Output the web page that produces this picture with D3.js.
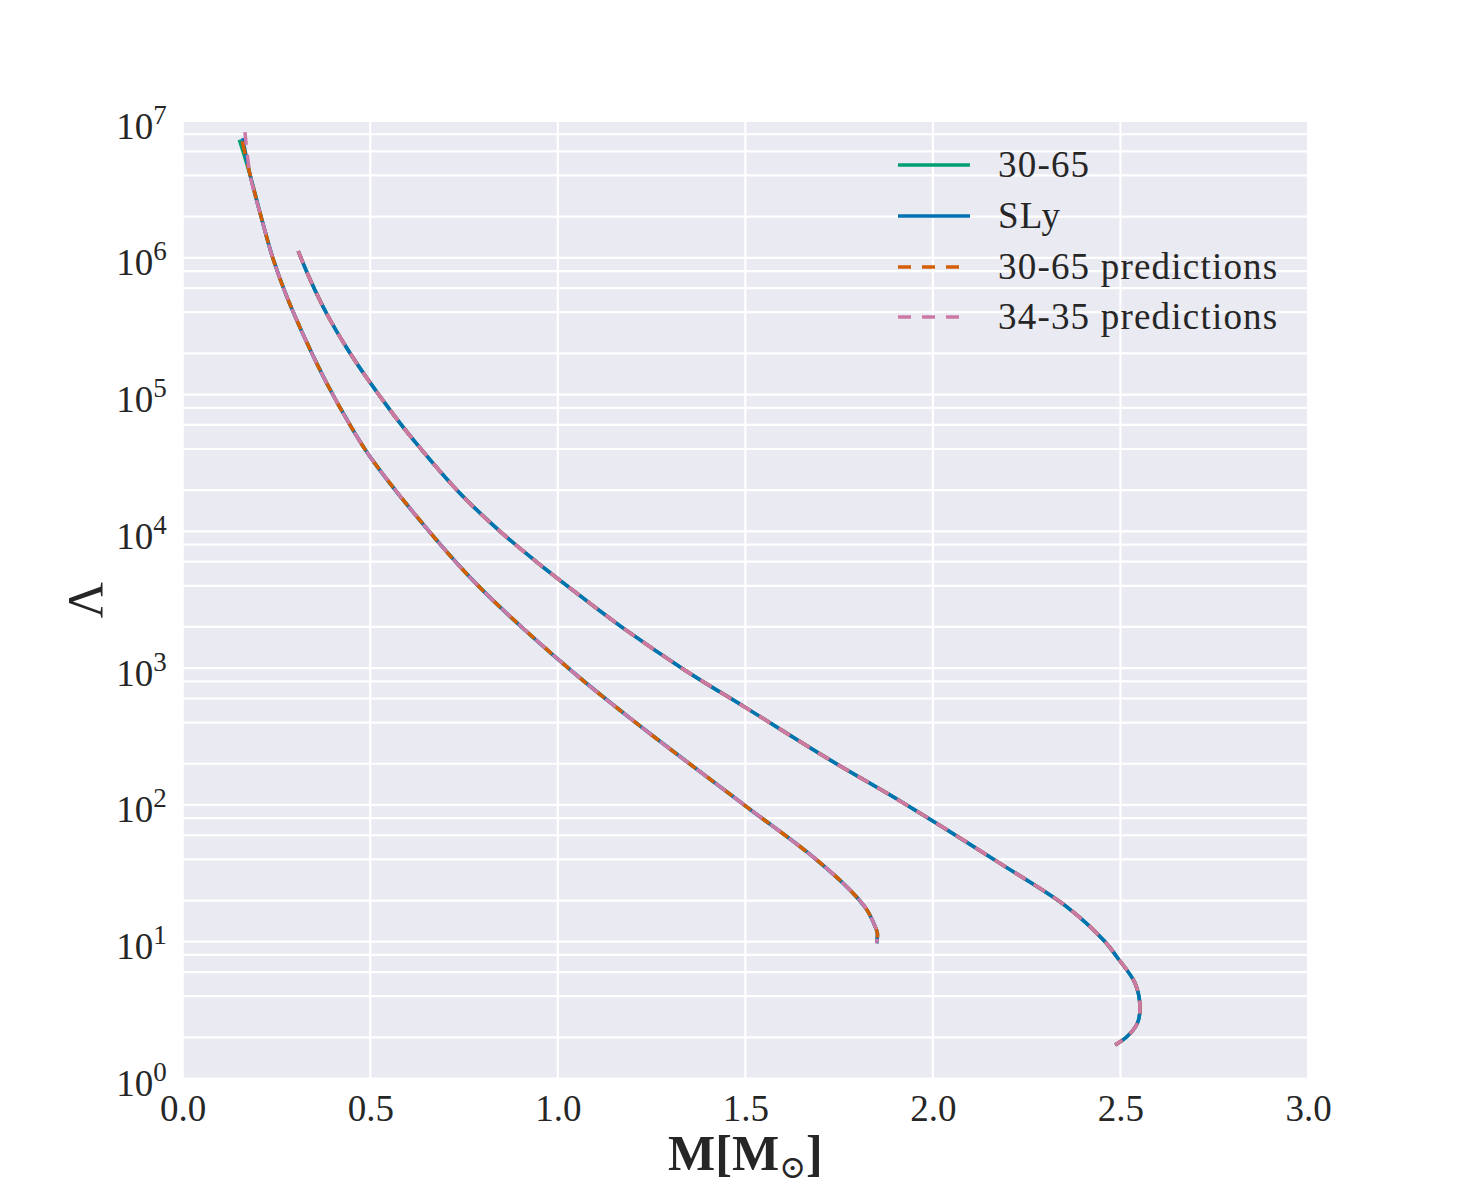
<!DOCTYPE html>
<html>
<head>
<meta charset="utf-8">
<script src="https://cdn.jsdelivr.net/npm/d3@7"></script>
<style>
  body { margin: 0; background: #fff; }
  text { font-family: "Liberation Serif", "DejaVu Serif", serif; fill: #262626; }
</style>
</head>
<body>
<div id="graphic"></div>
<script>
// legend / series
const seriesNames = ["30-65", "SLy", "30-65 predictions", "34-35 predictions"];
const seriesColors = ["#009E73", "#0072B2", "#D55E00", "#CC79A7"];
const seriesDashed = [false, false, true, true];
// first point of the low branch differs slightly between series
const startM = [0.151, 0.160, 0.159, 0.166];
const startLambda = [7.3e6, 7.5e6, 7.1e6, 8.3e6];

// low-mass branch (left curve)
const lowM = [0.180, 0.210, 0.240, 0.277, 0.331, 0.384, 0.446, 0.499, 0.657, 0.793,
              1.029, 1.201, 1.499, 1.681, 1.779, 1.824, 1.846, 1.852, 1.850];
const lowLambda = [4.0e6, 1.95e6, 1.0e6, 5.25e5, 2.4e5, 1.21e5, 6.0e4, 3.53e4, 1.0e4, 3.87e3,
                   995, 413, 99, 41.6, 23.9, 17.1, 12.9, 11.5, 9.73];

// high-mass branch (right curve)
const highM = [0.308, 0.339, 0.384, 0.437, 0.491, 0.561, 0.615, 0.739, 0.846, 0.944, 1.059, 1.184, 1.339,
               1.504, 1.726, 1.930, 2.179, 2.357, 2.459, 2.490, 2.539, 2.552, 2.545, 2.517, 2.486];
const highLambda = [1.12e6, 7.0e5, 3.9e5, 2.2e5, 1.32e5, 7.2e4, 4.67e4, 1.9e4, 1.0e4, 5.96e3, 3.39e3, 1.88e3, 966,
                    508, 213, 100, 37.4, 18.0, 10.0, 7.77, 4.97, 3.35, 2.53, 2.02, 1.76];

const xTicks = [0, 0.5, 1.0, 1.5, 2.0, 2.5, 3.0];
const yTicks = [1, 10, 100, 1e3, 1e4, 1e5, 1e6, 1e7];
const yMinor = [2, 4, 6, 8];

// dimensions
const graphicWidth = 1457;
const graphicHeight = 1200;
const margin = {top: 121, right: 149, bottom: 121.5, left: 182.7};
const plotWidth = graphicWidth - margin.left - margin.right;
const plotHeight = graphicHeight - margin.top - margin.bottom;

const svg = d3.select("#graphic")
    .append("svg")
    .attr("width", graphicWidth)
    .attr("height", graphicHeight);

const plot = svg.append("g")
    .attr("transform", "translate(" + margin.left + "," + margin.top + ")");

const x = d3.scaleLinear().domain([0, 3]).range([0, plotWidth]);
const y = d3.scaleLog().domain([1, 1e7]).range([plotHeight, 0]);

// background
plot.append("rect")
    .attr("width", plotWidth)
    .attr("height", plotHeight)
    .attr("fill", "#EAEAF2");

// grid lines (major decades + minor 2,4,6,8)
let gridY = [];
yTicks.forEach(t => {
    gridY.push(t);
    if (t < 1e7) yMinor.forEach(s => gridY.push(t * s));
});
plot.append("g").selectAll("line")
    .data(gridY)
    .join("line")
    .attr("x1", 0).attr("x2", plotWidth)
    .attr("y1", d => y(d)).attr("y2", d => y(d))
    .attr("stroke", "#fff")
    .attr("stroke-width", 2.2);
plot.append("g").selectAll("line")
    .data(xTicks)
    .join("line")
    .attr("x1", d => x(d)).attr("x2", d => x(d))
    .attr("y1", 0).attr("y2", plotHeight)
    .attr("stroke", "#fff")
    .attr("stroke-width", 2.2);

// x axis
const xAxis = plot.append("g")
    .attr("transform", "translate(0," + plotHeight + ")")
    .call(d3.axisBottom(x).tickValues(xTicks).tickFormat(d3.format(".1f")).tickSize(0).tickPadding(16));
xAxis.select(".domain").remove();
xAxis.selectAll("text")
    .attr("font-family", "Liberation Serif, serif")
    .attr("font-size", 37)
    .attr("fill", "#262626");

// y axis with superscript exponents
const yAxis = plot.append("g")
    .call(d3.axisLeft(y).tickValues(yTicks).tickFormat(() => "").tickSize(0).tickPadding(16));
yAxis.select(".domain").remove();
yAxis.selectAll("text")
    .attr("font-family", "Liberation Serif, serif")
    .attr("font-size", 37)
    .attr("fill", "#262626")
    .attr("dy", "0.46em")
    .each(function(d) {
        const t = d3.select(this);
        t.text("10");
        t.append("tspan")
            .attr("dy", -15)
            .attr("font-size", 27)
            .text(Math.round(Math.log10(d)));
    });

// curves
const line = d3.line()
    .x(d => x(d[0]))
    .y(d => y(d[1]))
    .curve(d3.curveCatmullRom.alpha(0.5));

const lowBranch = lowM.map((m, i) => [m, lowLambda[i]]);
const highBranch = highM.map((m, i) => [m, highLambda[i]]);

seriesNames.forEach((name, i) => {
    const branches = [[[startM[i], startLambda[i]]].concat(lowBranch), highBranch];
    branches.forEach(b => {
        plot.append("path")
            .datum(b)
            .attr("fill", "none")
            .attr("stroke", seriesColors[i])
            .attr("stroke-width", 3.5)
            .attr("stroke-dasharray", seriesDashed[i] ? "13,10" : null)
            .attr("stroke-linejoin", "round")
            .attr("d", line);
    });
});

// legend
const legend = svg.append("g");
const legendY = [165, 216, 267, 317];
seriesNames.forEach((name, i) => {
    legend.append("line")
        .attr("x1", 898).attr("x2", 970)
        .attr("y1", legendY[i]).attr("y2", legendY[i])
        .attr("stroke", seriesColors[i])
        .attr("stroke-width", 3.5)
        .attr("stroke-dasharray", seriesDashed[i] ? "13,11" : null);
    legend.append("text")
        .attr("x", 998)
        .attr("y", legendY[i] + 12)
        .attr("font-size", 37)
        .attr("letter-spacing", 1.2)
        .text(name);
});

// axis labels
const xLabel = svg.append("text")
    .attr("x", margin.left + plotWidth / 2)
    .attr("y", 1170)
    .attr("text-anchor", "middle")
    .attr("font-size", 50)
    .attr("font-weight", "bold");
xLabel.append("tspan").text("M[M");
xLabel.append("tspan").attr("font-size", 32).attr("font-weight", "normal").attr("dy", 8).text("\u2299");
xLabel.append("tspan").attr("dy", -8).text("]");

svg.append("text")
    .attr("transform", "translate(102,600) rotate(-90)")
    .attr("text-anchor", "middle")
    .attr("font-size", 50)
    .text("\u039B");
</script>
</body>
</html>
